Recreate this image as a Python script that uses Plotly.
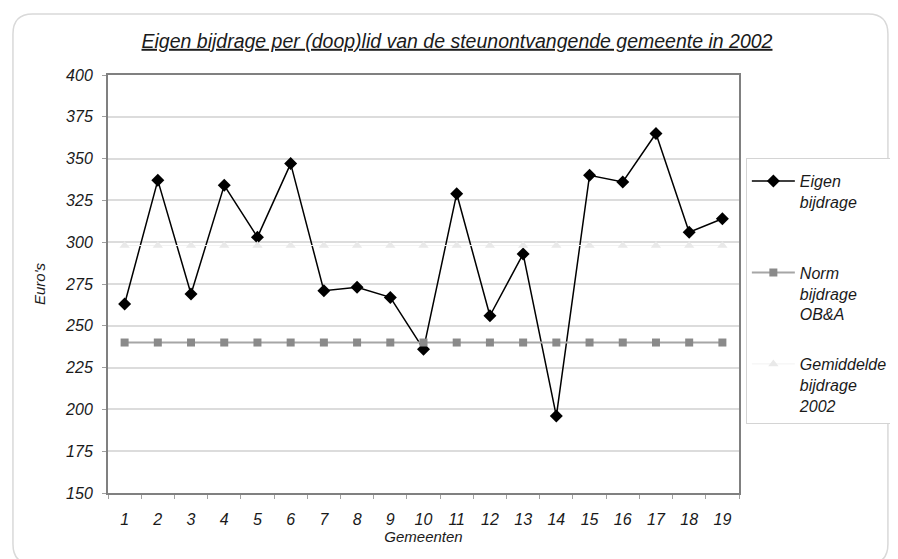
import plotly.graph_objects as go

gemeenten = [1, 2, 3, 4, 5, 6, 7, 8, 9, 10, 11, 12, 13, 14, 15, 16, 17, 18, 19]
tick_labels = ["1", "2", "3", "4", "5", "6", "7", "8", "9", "10",
               "11", "12", "13", "14", "15", "16", "17", "18", "19"]
eigen_bijdrage = [263, 337, 269, 334, 303, 347, 271, 273, 267, 236,
                  329, 256, 293, 196, 340, 336, 365, 306, 314]
norm_bijdrage = [240, 240, 240, 240, 240, 240, 240, 240, 240, 240,
                 240, 240, 240, 240, 240, 240, 240, 240, 240]
gemiddelde_bijdrage = [298, 298, 298, 298, 298, 298, 298, 298, 298, 298,
                       298, 298, 298, 298, 298, 298, 298, 298, 298]

FONT = "Liberation Sans, Arial, sans-serif"
W, H = 898, 559
L, R, T, B = 100, 154, 67, 74
pw, ph = W - L - R, H - T - B

def px(x):
    return (x - L) / pw

def py(y):
    return (H - B - y) / ph

fig = go.Figure()
fig.add_trace(go.Scatter(
    x=gemeenten, y=eigen_bijdrage, name="Eigen<br>bijdrage<br> ", mode="lines+markers",
    line=dict(color="black", width=1.5),
    marker=dict(symbol="diamond", size=10, color="black"),
    legendgroup="a"))
fig.add_trace(go.Scatter(
    x=gemeenten, y=norm_bijdrage, name="Norm<br>bijdrage<br>OB&A", mode="lines+markers",
    line=dict(color="#a6a6a6", width=2),
    marker=dict(symbol="square", size=8, color="#8a8a8a"),
    legendgroup="b"))
fig.add_trace(go.Scatter(
    x=gemeenten, y=gemiddelde_bijdrage, name="Gemiddelde<br>bijdrage<br>2002", mode="lines+markers",
    line=dict(color="#f2f2f2", width=1),
    marker=dict(symbol="triangle-up", size=9, color="#e9e9e9"),
    legendgroup="c"))

# rounded outer frame
x0, x1, y0, y1 = 3, 896, 6, 556
r = 20
def P(x, y):
    return f"{px(x):.5f},{py(y):.5f}"
path = (f"M {P(x0 + r, y0)} L {P(x1 - r, y0)} Q {P(x1, y0)} {P(x1, y0 + r)} "
        f"L {P(x1, y1 - r)} Q {P(x1, y1)} {P(x1 - r, y1)} "
        f"L {P(x0 + r, y1)} Q {P(x0, y1)} {P(x0, y1 - r)} "
        f"L {P(x0, y0 + r)} Q {P(x0, y0)} {P(x0 + r, y0)} Z")
fig.add_shape(type="path", path=path, xref="paper", yref="paper",
              line=dict(color="#d9d9d9", width=1.5), layer="below")

fig.update_layout(
    width=W, height=H,
    margin=dict(l=L, r=R, t=T, b=B),
    paper_bgcolor="white", plot_bgcolor="white",
    font=dict(family=FONT, color="#1a1a1a", size=15, style="italic"),
    title=dict(text="Eigen bijdrage per (doop)lid van de steunontvangende gemeente in 2002",
               x=0.5, xref="container", xanchor="center",
               y=(H - 33) / H, yref="container", yanchor="middle",
               font=dict(family=FONT, size=19.5, style="italic", color="#1a1a1a",
                         lineposition="under")),
    showlegend=True,
    legend=dict(x=px(751), y=py(150), xanchor="left", yanchor="top",
                bordercolor="#d4d4d4", borderwidth=1, bgcolor="white",
                font=dict(family=FONT, size=16, style="italic", color="#1a1a1a"),
                title=dict(text=" ", font=dict(size=4)),
                valign="top", tracegroupgap=26, itemwidth=43,
                traceorder="grouped"),
    xaxis=dict(range=[0.5, 19.5], tickvals=gemeenten, ticktext=tick_labels,
               ticks="", showgrid=False, zeroline=False,
               showline=True, linecolor="#808080", linewidth=2, mirror=True,
               tickfont=dict(family=FONT, size=16, style="italic"),
               ticklabelstandoff=11,
               minor=dict(tickvals=[i + 0.5 for i in range(0, 20)], ticks="outside",
                          ticklen=4, tickcolor="#a0a0a0", tickwidth=1, showgrid=False),
               title=dict(text="Gemeenten", standoff=2,
                          font=dict(family=FONT, size=15, style="italic"))),
    yaxis=dict(range=[150, 400], tickvals=[150, 175, 200, 225, 250, 275, 300, 325, 350, 375, 400],
               ticks="outside", ticklen=4, tickcolor="#a0a0a0",
               showgrid=True, gridcolor="#dcdcdc", gridwidth=1.5, zeroline=False,
               showline=True, linecolor="#808080", linewidth=2, mirror=True,
               tickfont=dict(family=FONT, size=16, style="italic"),
               ticklabelstandoff=6,
               title=dict(text="Euro's", standoff=16,
                          font=dict(family=FONT, size=15, style="italic"))),
)

fig.write_html("out.html")
